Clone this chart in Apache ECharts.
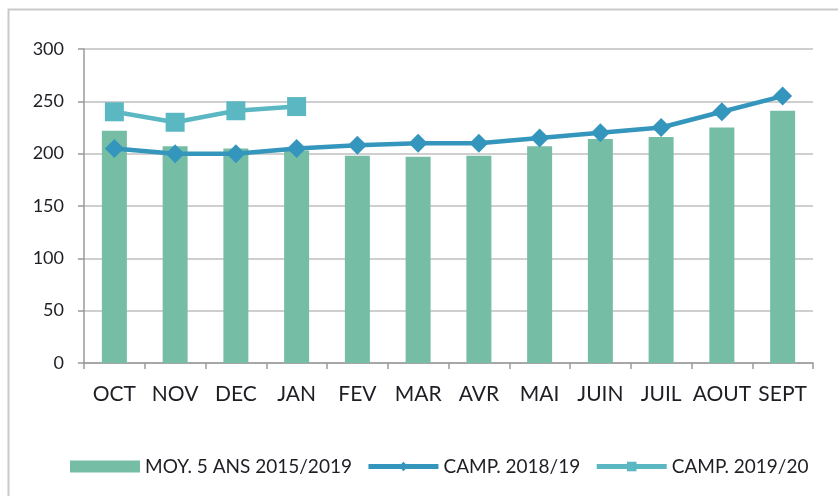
<!DOCTYPE html>
<html>
<head>
<meta charset="utf-8">
<script src="https://cdn.jsdelivr.net/npm/echarts@6/dist/echarts.min.js"></script>
<style>
  html, body { margin: 0; padding: 0; background: #fff; }
  #chart { width: 838px; height: 496px; }
</style>
</head>
<body>
<div id="chart"></div>
<script>
// Months of the campaign (October to September)
const months = ['OCT', 'NOV', 'DEC', 'JAN', 'FEV', 'MAR', 'AVR', 'MAI', 'JUIN', 'JUIL', 'AOUT', 'SEPT'];

// 5-year average 2015/2019
const avg5y = [222, 207, 205, 203, 198, 197, 198, 207, 214, 216, 225, 241];

// Campaign 2018/19
const camp1819 = [205, 200, 200, 205, 208, 210, 210, 215, 220, 225, 240, 255];

// Campaign 2019/20 (first months only)
const camp1920 = [240, 230, 241, 245, null, null, null, null, null, null, null, null];

const yTicks = [0, 50, 100, 150, 200, 250, 300];

const FONT = 'Lato';
const TEXT = '#1e1e24';
const GRID = '#bfbfbf';
const AXIS = '#9a9a9a';

const chart = echarts.init(document.getElementById('chart'), null, { renderer: 'canvas' });

chart.setOption({
  animation: false,
  backgroundColor: '#ffffff',
  textStyle: { fontFamily: FONT, color: TEXT },
  graphic: [{
    type: 'rect',
    shape: { x: 8.5, y: 9.5, width: 840, height: 500 },
    style: { fill: 'none', stroke: '#c9c9c9', lineWidth: 2 },
    silent: true
  }],
  grid: { left: 84, right: 25, top: 49, bottom: 133 },
  legend: {
    left: 65,
    top: 452,
    itemWidth: 70,
    itemHeight: 12,
    itemGap: 14,
    textStyle: { fontFamily: FONT, fontSize: 19, color: TEXT },
    data: [
      { name: 'MOY. 5 ANS 2015/2019', icon: 'rect' },
      { name: 'CAMP. 2018/19', lineStyle: { width: 5 } },
      { name: 'CAMP. 2019/20', lineStyle: { width: 5 } }
    ]
  },
  xAxis: {
    type: 'category',
    data: months,
    boundaryGap: true,
    axisLine: { show: true, lineStyle: { color: AXIS, width: 1.5 } },
    axisTick: { show: true, alignWithLabel: false, length: 6, lineStyle: { color: AXIS, width: 1.5 } },
    axisLabel: { interval: 0, fontFamily: FONT, fontSize: 21, color: TEXT, margin: 21 }
  },
  yAxis: {
    type: 'value',
    min: yTicks[0],
    max: yTicks[yTicks.length - 1],
    interval: 50,
    axisLine: { show: true, lineStyle: { color: AXIS, width: 1.5 } },
    axisTick: { show: true, length: 6, lineStyle: { color: AXIS, width: 1.5 } },
    axisLabel: { fontFamily: FONT, fontSize: 18, color: TEXT, margin: 20 },
    splitLine: { show: true, lineStyle: { color: GRID, width: 1.5 } }
  },
  series: [
    {
      name: 'MOY. 5 ANS 2015/2019',
      type: 'bar',
      data: avg5y,
      barWidth: 25,
      itemStyle: { color: '#76bda5' },
      z: 2
    },
    {
      name: 'CAMP. 2018/19',
      type: 'line',
      data: camp1819,
      symbol: 'diamond',
      symbolSize: 19,
      lineStyle: { color: '#3596bd', width: 4.5 },
      itemStyle: { color: '#3596bd' },
      z: 3
    },
    {
      name: 'CAMP. 2019/20',
      type: 'line',
      data: camp1920,
      symbol: 'rect',
      symbolSize: 19,
      connectNulls: false,
      lineStyle: { color: '#5bb8c3', width: 4.5 },
      itemStyle: { color: '#5bb8c3' },
      z: 4
    }
  ]
});
</script>
</body>
</html>
